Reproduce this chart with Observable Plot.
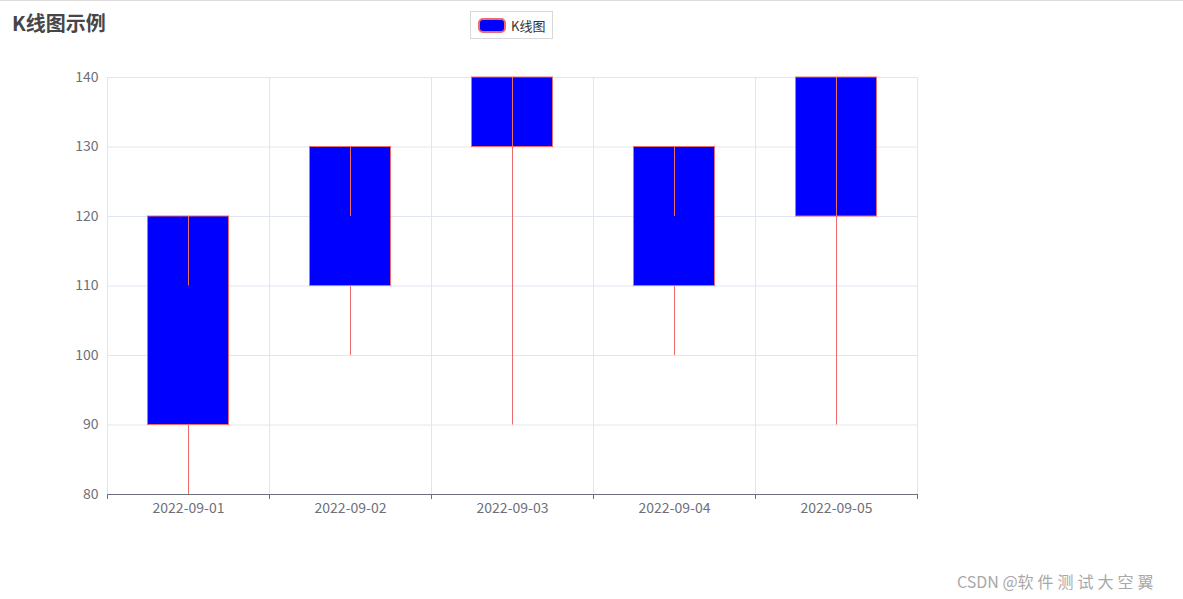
<!DOCTYPE html>
<html>
<head>
<meta charset="utf-8">
<script src="https://cdn.jsdelivr.net/npm/d3@7"></script>
<script src="https://cdn.jsdelivr.net/npm/@observablehq/plot@0.6"></script>
<style>
  html, body { margin: 0; padding: 0; background: #fff; }
  body { width: 1183px; height: 599px; position: relative; overflow: hidden; font-family: "Noto Sans CJK SC", "Noto Sans", sans-serif; }
  #topline { position: absolute; left: 0; top: 0; width: 1183px; height: 1px; background: #dcdcdc; }
  #title { position: absolute; left: 12px; top: 9px; font-size: 20px; font-weight: bold; color: #464646; line-height: 28px; }
  #legend { position: absolute; left: 470px; top: 11px; width: 83px; height: 28px; border: 1px solid #d8d8d8; box-sizing: border-box; display: flex; align-items: center; }
  #legend .icon { margin-left: 7px; width: 28px; height: 15px; background: #0000ff; border: 2px solid #ee6b6b; border-radius: 5px; box-sizing: border-box; }
  #legend .lab { margin-left: 5px; font-size: 13px; color: #333; }
  #mark { position: absolute; left: 957px; top: 569px; font-size: 16px; color: #a8a8a8; white-space: nowrap; }
  #mark span { letter-spacing: 4px; }
  #chart { position: absolute; left: 0; top: 0; }
</style>
</head>
<body>
<div id="topline"></div>
<div id="chart"></div>
<div id="title">K线图示例</div>
<div id="legend"><div class="icon"></div><div class="lab">K线图</div></div>
<div id="mark">CSDN @<span>软件测试大空翼</span></div>
<script>
const dates = ["2022-09-01", "2022-09-02", "2022-09-03", "2022-09-04", "2022-09-05"];
const open  = [90, 110, 130, 110, 120];
const close = [120, 130, 140, 130, 140];
const low   = [80, 100, 90, 100, 90];
const high  = [110, 120, 130, 120, 120];
const yTicks = [80, 90, 100, 110, 120, 130, 140];

const data = dates.map((d, i) => ({
  i, date: d,
  top: Math.max(open[i], close[i]),
  bottom: Math.min(open[i], close[i]),
  low: low[i], high: high[i]
}));
const boundaries = d3.range(dates.length + 1);
const centers = dates.map((d, i) => i + 0.5);

const chart = Plot.plot({
  width: 1183,
  height: 599,
  marginLeft: 107,
  marginRight: 266,
  marginTop: 77,
  marginBottom: 105,
  style: { fontFamily: '"Noto Sans CJK SC", "Noto Sans", sans-serif', fontSize: "14px", color: "#6e7079", background: "transparent" },
  x: { type: "linear", domain: [0, dates.length], label: null },
  y: { domain: [80, 140], label: null },
  marks: [
    Plot.gridY(yTicks, { stroke: "#e0e6f1", strokeOpacity: 1 }),
    Plot.gridX(boundaries, { stroke: "#e0e6f1", strokeOpacity: 1 }),
    Plot.axisY(yTicks, { tickSize: 0, tickPadding: 9, fill: "#6e7079", fontSize: 14, label: null }),
    Plot.rectY(data, { x1: "i", x2: d => d.i + 1, y1: "bottom", y2: "top", insetLeft: 40.5, insetRight: 40.5, fill: "#0000ff", stroke: "#ee6b6b", strokeWidth: 1 }),
    Plot.ruleX(data, { x: d => d.i + 0.5, y1: "top", y2: "high", stroke: "#ee6b6b", strokeWidth: 1 }),
    Plot.ruleX(data, { x: d => d.i + 0.5, y1: "bottom", y2: "low", stroke: "#ee6b6b", strokeWidth: 1 }),
    Plot.ruleY([80], { stroke: "#6e7079" }),
    Plot.axisX(boundaries, { tickSize: 5, tickFormat: () => "", stroke: "#6e7079", strokeOpacity: 1, label: null }),
    Plot.axisX(centers, { tickSize: 0, tickPadding: 9, tickFormat: v => dates[Math.round(v - 0.5)], fill: "#6e7079", fontSize: 14, label: null })
  ]
});
document.getElementById("chart").appendChild(chart);
</script>
</body>
</html>
